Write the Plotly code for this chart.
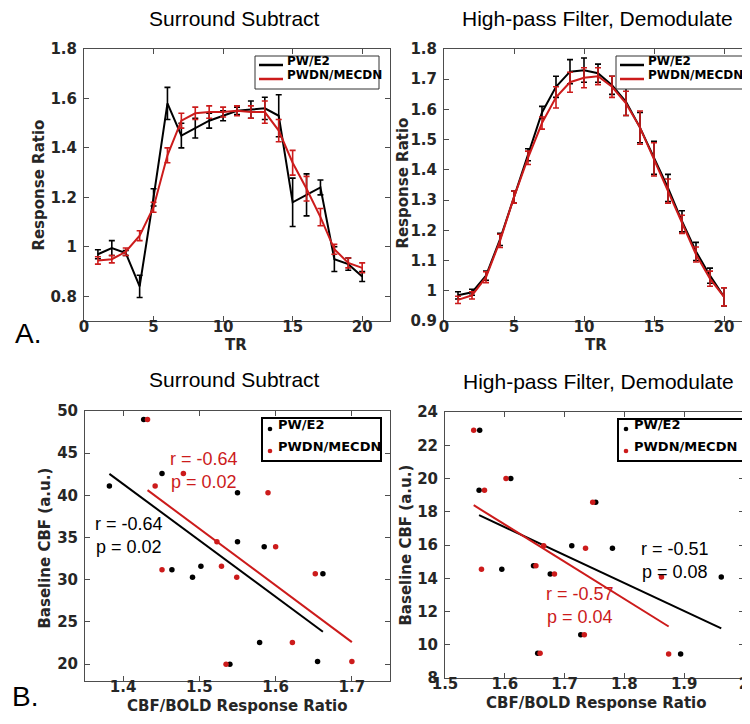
import numpy as np
import plotly.graph_objects as go

W, H = 750, 724

# ---------------- Panel A data (TR time courses) ----------------
TR = list(range(1, 21))

ss_pw_e2 = [0.97, 0.995, 0.975, 0.84, 1.20, 1.58, 1.45, 1.48, 1.51, 1.53,
            1.55, 1.555, 1.56, 1.53, 1.18, 1.21, 1.24, 0.95, 0.93, 0.88]
ss_pw_e2_err = [0.018, 0.03, 0.01, 0.045, 0.035, 0.065, 0.05, 0.04, 0.03, 0.02,
                0.015, 0.035, 0.045, 0.085, 0.098, 0.085, 0.03, 0.05, 0.025, 0.02]
ss_pwdn = [0.945, 0.95, 0.98, 1.045, 1.16, 1.37, 1.51, 1.54, 1.545, 1.545,
           1.55, 1.545, 1.545, 1.47, 1.34, 1.235, 1.12, 0.99, 0.935, 0.915]
ss_pwdn_err = [0.015, 0.015, 0.015, 0.02, 0.02, 0.03, 0.03, 0.025, 0.025, 0.02,
               0.02, 0.025, 0.045, 0.045, 0.05, 0.05, 0.035, 0.02, 0.02, 0.02]

hp_pw_e2 = [0.985, 0.995, 1.05, 1.17, 1.31, 1.45, 1.59, 1.675, 1.725, 1.73,
            1.72, 1.68, 1.625, 1.54, 1.44, 1.34, 1.23, 1.13, 1.05, 0.98]
hp_pw_e2_err = [0.012, 0.01, 0.015, 0.02, 0.02, 0.02, 0.02, 0.035, 0.04, 0.04,
                0.03, 0.03, 0.045, 0.05, 0.055, 0.045, 0.035, 0.03, 0.025, 0.03]
hp_pwdn = [0.97, 0.985, 1.045, 1.165, 1.31, 1.44, 1.555, 1.64, 1.69, 1.705,
           1.71, 1.675, 1.62, 1.54, 1.435, 1.33, 1.22, 1.12, 1.04, 0.98]
hp_pwdn_err = [0.012, 0.012, 0.018, 0.022, 0.02, 0.022, 0.02, 0.035, 0.033, 0.033,
               0.028, 0.035, 0.04, 0.055, 0.055, 0.04, 0.03, 0.025, 0.025, 0.03]

# ---------------- Panel B data (scatter) ----------------
ss_cbf = [49.0, 41.1, 42.6, 31.2, 30.3, 31.6, 34.5, 40.3, 20.0, 22.55, 33.9, 30.7, 20.3]
ss_ratio_pw_e2 = [1.427, 1.382, 1.451, 1.464, 1.491, 1.502, 1.550, 1.550, 1.540, 1.579, 1.585, 1.662, 1.655]
ss_ratio_pwdn = [1.432, 1.442, 1.479, 1.451, 1.549, 1.529, 1.523, 1.590, 1.535, 1.622, 1.600, 1.652, 1.700]

hp_cbf = [22.9, 20.0, 19.3, 18.57, 15.95, 15.8, 14.54, 14.75, 14.26, 14.07, 10.6, 9.49, 9.44]
hp_ratio_pw_e2 = [1.558, 1.610, 1.557, 1.752, 1.712, 1.780, 1.595, 1.648, 1.676, 1.962, 1.727, 1.655, 1.894]
hp_ratio_pwdn = [1.548, 1.602, 1.566, 1.747, 1.665, 1.735, 1.561, 1.652, 1.683, 1.862, 1.733, 1.659, 1.874]

series_names = ["PW/E2", "PWDN/MECDN"]
panel_titles = ["Surround Subtract", "High-pass Filter, Demodulate"]
stats_text = {
    "ss_black": "r = -0.64<br>p = 0.02",
    "ss_red": "r = -0.64<br>p = 0.02",
    "hp_black": "r = -0.51<br>p = 0.08",
    "hp_red": "r = -0.57<br>p = 0.04",
}

BLACK = "#000000"
RED = "#cc1b1b"
AXC = "#4d4d4d"
TXT = "#262626"


def px(x):
    return x / W


def py(y):
    return 1 - y / H


fig = go.Figure()


def ts_trace(y, err, color, name, xa, ya):
    return go.Scatter(
        x=TR, y=y, mode="lines", name=name, showlegend=False,
        line=dict(color=color, width=2),
        error_y=dict(type="data", array=err, visible=True, color=color,
                     thickness=1.6, width=3),
        xaxis=xa, yaxis=ya,
    )


fig.add_trace(ts_trace(ss_pw_e2, ss_pw_e2_err, BLACK, series_names[0], "x", "y"))
fig.add_trace(ts_trace(ss_pwdn, ss_pwdn_err, RED, series_names[1], "x", "y"))
fig.add_trace(ts_trace(hp_pw_e2, hp_pw_e2_err, BLACK, series_names[0], "x2", "y2"))
fig.add_trace(ts_trace(hp_pwdn, hp_pwdn_err, RED, series_names[1], "x2", "y2"))


def scatter_with_fit(xv, yv, color, name, xa, ya):
    xv = np.array(xv)
    yv = np.array(yv)
    fig.add_trace(go.Scatter(
        x=xv, y=yv, mode="markers", name=name, showlegend=False,
        marker=dict(color=color, size=5.5),
        xaxis=xa, yaxis=ya,
    ))
    slope, icpt = np.polyfit(xv, yv, 1)
    xf = np.array([xv.min(), xv.max()])
    fig.add_trace(go.Scatter(
        x=xf, y=slope * xf + icpt, mode="lines", showlegend=False,
        line=dict(color=color, width=2),
        xaxis=xa, yaxis=ya, hoverinfo="skip",
    ))


scatter_with_fit(ss_ratio_pw_e2, ss_cbf, BLACK, series_names[0], "x3", "y3")
scatter_with_fit(ss_ratio_pwdn, ss_cbf, RED, series_names[1], "x3", "y3")
scatter_with_fit(hp_ratio_pw_e2, hp_cbf, BLACK, series_names[0], "x4", "y4")
scatter_with_fit(hp_ratio_pwdn, hp_cbf, RED, series_names[1], "x4", "y4")

tickfont = dict(family="DejaVu Sans", size=15, color=TXT, weight="bold")


def axis(domain, rng, dtick, anchor, is_x):
    return dict(
        domain=domain, range=rng, dtick=dtick, anchor=anchor,
        showline=True, linecolor=AXC, linewidth=1, mirror="ticks",
        ticks="inside", ticklen=5, tickcolor=AXC, tickwidth=1,
        showgrid=False, zeroline=False, automargin=False,
        tickfont=tickfont,
        ticklabelstandoff=-8 if is_x else 3,
    )


fig.update_layout(
    width=W, height=H,
    margin=dict(l=0, r=0, t=0, b=0),
    paper_bgcolor="white", plot_bgcolor="white",
    showlegend=False,
    xaxis=axis([px(76), px(382)], [0, 22], 5, "y", True),
    yaxis=axis([py(313), py(41)], [0.7, 1.8], 0.2, "x", False),
    xaxis2=axis([px(436), px(744)], [0, 22], 5, "y2", True),
    yaxis2=axis([py(313), py(41)], [0.9, 1.8], 0.1, "x2", False),
    xaxis3=axis([px(77), px(382)], [1.35, 1.75], 0.1, "y3", True),
    yaxis3=axis([py(673), py(403)], [18, 50], 5, "x3", False),
    xaxis4=axis([px(437), px(736)], [1.5, 2.0], 0.1, "y4", True),
    yaxis4=axis([py(670), py(404)], [8, 24], 2, "x4", False),
)

ann = []
shapes = []


def text(t, x, y, size, family="Liberation Sans", color=BLACK, bold=False,
         angle=0, xanchor="center"):
    # x, y: wanted visual centre (pixels); compensate annotation box offset
    d = 0.36 * size
    if angle == 0:
        yy = y - d
        xx = x
    else:
        yy = y
        xx = x - d
    f = dict(family=family, size=size, color=color)
    if bold:
        f["weight"] = "bold"
    ann.append(dict(text=t, x=px(xx), y=py(yy), xref="paper", yref="paper",
                    xanchor=xanchor, yanchor="middle", showarrow=False, font=f,
                    textangle=angle, align="center"))


# panel titles
text(panel_titles[0], 226, 18, 21)
text(panel_titles[1], 589, 18, 21)
text(panel_titles[0], 226, 379, 21)
text(panel_titles[1], 590, 381, 21)

# panel letters
text("A.", 5, 336, 28, xanchor="left")
text("B.", 2, 699, 28, xanchor="left")

# axis titles
ax_font = "DejaVu Sans"
text("TR", 228, 342, 15, ax_font, TXT, True)
text("TR", 588, 342, 15, ax_font, TXT, True)
text("Response Ratio", 36, 177, 15, ax_font, TXT, True, angle=-90)
text("Response Ratio", 400, 175, 15, ax_font, TXT, True, angle=-90)
text("CBF/BOLD Response Ratio", 229, 703, 15, ax_font, TXT, True)
text("CBF/BOLD Response Ratio", 588, 700, 15, ax_font, TXT, True)
text("Baseline CBF (a.u.)", 42, 540, 15, ax_font, TXT, True, angle=-90)
text("Baseline CBF (a.u.)", 403, 537, 15, ax_font, TXT, True, angle=-90)

# correlation statistics
text(stats_text["ss_red"], 196, 469, 18, color=RED)
text(stats_text["ss_black"], 121, 534, 18, color=BLACK)
text(stats_text["hp_black"], 667, 559, 18, color=BLACK)
text(stats_text["hp_red"], 572, 604, 18, color=RED)


# legends (drawn as boxed keys)
def line_legend(x0, x1, y0, y1, rows):
    shapes.append(dict(type="rect", xref="paper", yref="paper",
                       x0=px(x0), x1=px(x1), y0=py(y1), y1=py(y0),
                       line=dict(color="#333333", width=1), fillcolor="white", layer="above"))
    for (name, color, yr) in rows:
        shapes.append(dict(type="line", xref="paper", yref="paper",
                           x0=px(x0 + 4), x1=px(x0 + 28), y0=py(yr), y1=py(yr),
                           line=dict(color=color, width=2.5), layer="above"))
        text(name, x0 + 30, yr, 12, "DejaVu Sans", BLACK, True, xanchor="left")


def dot_legend(x0, x1, y0, y1, rows):
    shapes.append(dict(type="rect", xref="paper", yref="paper",
                       x0=px(x0), x1=px(x1), y0=py(y1), y1=py(y0),
                       line=dict(color=BLACK, width=2), fillcolor="white", layer="above"))
    for (name, color, yr) in rows:
        r = 2.3
        cx = x0 + 8
        shapes.append(dict(type="circle", xref="paper", yref="paper",
                           x0=px(cx - r), x1=px(cx + r), y0=py(yr + r), y1=py(yr - r),
                           line=dict(color=color, width=0), fillcolor=color, layer="above"))
        text(name, x0 + 14, yr, 13, "DejaVu Sans", BLACK, True, xanchor="left")


line_legend(247, 371, 48, 81, [(series_names[0], BLACK, 57), (series_names[1], RED, 71)])
line_legend(608, 735, 48, 81, [(series_names[0], BLACK, 57), (series_names[1], RED, 71)])
dot_legend(254, 373, 410, 453, [(series_names[0], BLACK, 421), (series_names[1], RED, 443)])
dot_legend(610, 736, 411, 453, [(series_names[0], BLACK, 421), (series_names[1], RED, 443)])

fig.update_layout(annotations=ann, shapes=shapes)
fig.write_html("out.html")
